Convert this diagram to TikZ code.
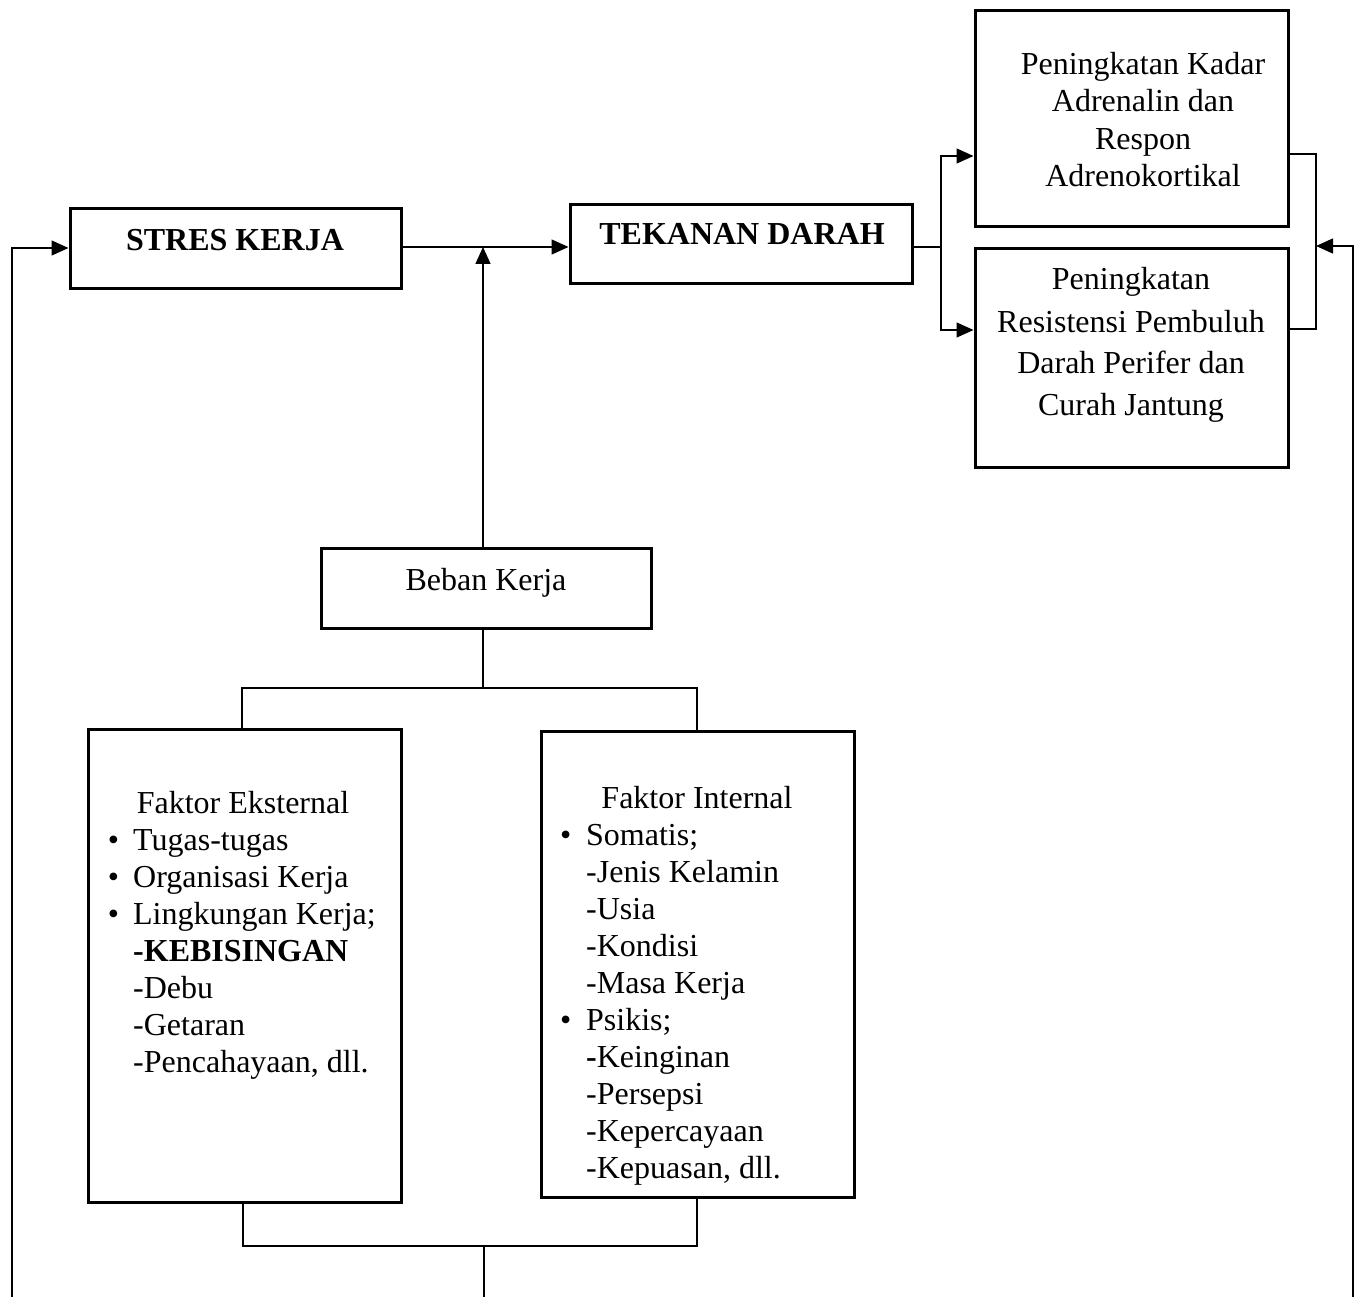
\documentclass[tikz,border=0pt]{standalone}
\usepackage{fontspec}
\setmainfont{Liberation Serif}
\usetikzlibrary{arrows.meta}
\begin{document}
\begin{tikzpicture}[x=1pt,y=-1pt,
  box/.style={draw,line width=3pt,inner sep=0pt},
  conn/.style={line width=1.4pt},
  arr/.style={conn,-{Triangle[length=17pt,width=15pt]}},
  txt/.style={inner sep=0pt,font=\fontsize{32}{37}\selectfont},
  ctxt/.style={txt,anchor=base},
  ltxt/.style={txt,anchor=base west},
]
\useasboundingbox (0,0) rectangle (1357,1297);

% boxes
\node[box,minimum width=331pt,minimum height=80pt] (stres) at (235.5,249) {};
\node[box,minimum width=342pt,minimum height=79pt] (tekanan) at (741,244.5) {};
\node[box,minimum width=313pt,minimum height=216pt] (r1) at (1131.5,119) {};
\node[box,minimum width=313pt,minimum height=218pt] (r2) at (1131.5,358) {};
\node[box,minimum width=330pt,minimum height=80pt] (beban) at (486,588) {};
\node[box,minimum width=313pt,minimum height=473pt] (eks) at (244.5,965.5) {};
\node[box,minimum width=313pt,minimum height=466pt] (int) at (697.5,964) {};

% texts
\node[ctxt] (stresT) at (235,251) {\textbf{STRES KERJA}};
\node[ctxt] (tekT) at (742,245) {\textbf{TEKANAN DARAH}};
\node[ctxt] (bebT) at (486,590) {Beban Kerja};

\node[ctxt] (r1a) at (1143,75) {Peningkatan Kadar};
\node[ctxt] (r1b) at (1143,112) {Adrenalin dan};
\node[ctxt] (r1c) at (1143,150) {Respon};
\node[ctxt] (r1d) at (1143,187) {Adrenokortikal};

\node[ctxt] (r2a) at (1131,290) {Peningkatan};
\node[ctxt] (r2b) at (1131,332) {Resistensi Pembuluh};
\node[ctxt] (r2c) at (1131,373) {Darah Perifer dan};
\node[ctxt] (r2d) at (1131,415) {Curah Jantung};

\newcommand{\bulE}{\llap{\textbullet\hspace{14pt}}}
\newcommand{\bulI}{\llap{\textbullet\hspace{15pt}}}
\node[ctxt] (eksH) at (243,813) {Faktor Eksternal};
\foreach \t [count=\i] in {\bulE Tugas-tugas, \bulE Organisasi Kerja, \bulE Lingkungan Kerja;, \textbf{-KEBISINGAN}, -Debu, -Getaran, {-Pencahayaan, dll.}}
  \node[ltxt] (eks\i) at (133,{850+37*(\i-1)}) {\t};

\node[ctxt] (intH) at (697,808) {Faktor Internal};
\foreach \t [count=\i] in {\bulI Somatis;, -Jenis Kelamin, -Usia, -Kondisi, -Masa Kerja, \bulI Psikis;, \textbf{-}Keinginan, -Persepsi, -Kepercayaan, {-Kepuasan, dll.}}
  \node[ltxt] (int\i) at (586,{845+37*(\i-1)}) {\t};

% connectors
\coordinate (jn) at (483,247);
\draw[arr] (stres.east |- jn) -- (tekanan.west |- jn);
\draw[arr] (jn |- beban.north) -- (jn);

\coordinate (lfb) at (12,1297);
\coordinate (lft) at (12,248);
\draw[arr] (lfb) -- (lft) -- (stres.west |- lft);

\coordinate (sp) at (941,247);
\coordinate (sp1) at (941,156);
\coordinate (sp2) at (941,330);
\draw[conn] (tekanan.east |- sp) -- (sp);
\draw[arr] (sp) -- (sp1) -- (r1.west |- sp1);
\draw[arr] (sp) -- (sp2) -- (r2.west |- sp2);

\coordinate (rb1) at (1316,154);
\coordinate (rb2) at (1316,329);
\draw[conn] (r1.east |- rb1) -- (rb1) -- (rb2) -- (r2.east |- rb2);
\coordinate (rfb) at (1353,1297);
\coordinate (rft) at (1353,246);
\draw[arr] (rfb) -- (rft) -- (rb1 |- rft);

\coordinate (tb) at (483,688);
\coordinate (tbl) at (242,688);
\coordinate (tbr) at (697,688);
\draw[conn] (jn |- beban.south) -- (tb);
\draw[conn] (eks.north -| tbl) -- (tbl) -- (tbr) -- (int.north -| tbr);

\coordinate (bbl) at (243,1246);
\coordinate (bbr) at (697,1246);
\coordinate (bbm) at (484,1246);
\coordinate (bbe) at (484,1297);
\draw[conn] (eks.south -| bbl) -- (bbl) -- (bbr) -- (int.south -| bbr);
\draw[conn] (bbm) -- (bbe);
\end{tikzpicture}
\end{document}
